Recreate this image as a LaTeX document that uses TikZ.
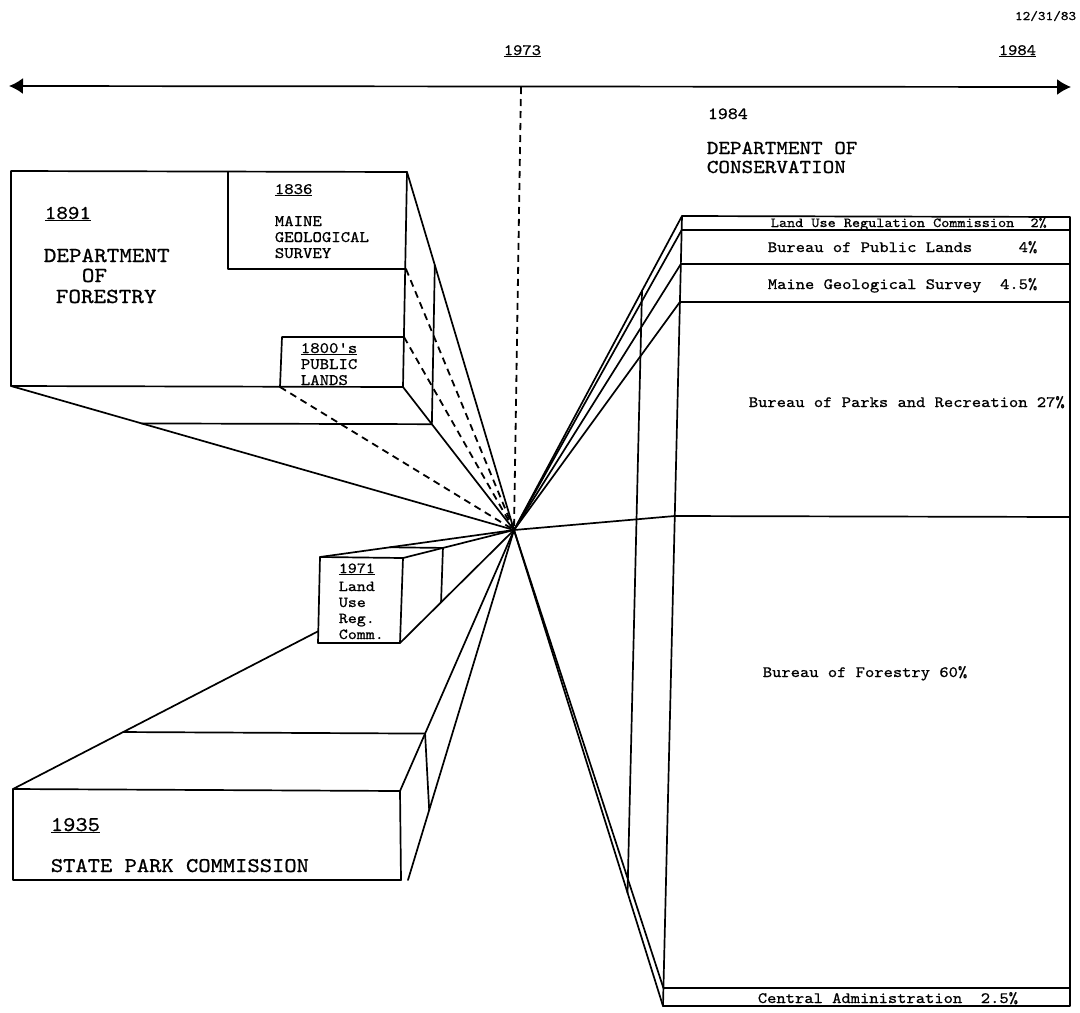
\documentclass[tikz,border=0pt]{standalone}
\usepackage{fontspec}
\newfontfamily\twfont[Extension=.otf,FakeStretch=1.12,FakeBold=0.8]{lmmono10-regular}
\usetikzlibrary{arrows.meta,calc}
\begin{document}
\begin{tikzpicture}[x=1pt,y=-1pt,line width=1.7pt,line join=round,line cap=round,
  dsh/.style={line width=1.8pt,dash pattern=on 7pt off 5pt,line cap=butt},
  tw/.style={font=\twfont\fontsize{#1}{#1}\selectfont,inner sep=0pt,anchor=base west},
  tip/.style={{Latex[length=14pt,width=16pt]}-{Latex[length=14pt,width=16pt]}}]
\useasboundingbox (0,0) rectangle (1080,1013);
\coordinate (V) at (514,530);

% ---------- time line ----------
\coordinate (TL) at (9,86);
\coordinate (TR) at (1071,87);
\draw[tip] (TL) -- (TR);
\coordinate (T73) at (521,87);
\draw[dsh] (T73) -- (V);
\node[tw=13,anchor=base east] (date) at (1077,20) {12/31/83};
\node[tw=15.8] (y73)  at (503,55)  {\underline{1973}};
\node[tw=15.8] (y84a) at (998,55)  {\underline{1984}};

% ---------- Department of Forestry ----------
\coordinate (F1) at (11,171);
\coordinate (F2) at (407,172);
\coordinate (F3) at (403,387);
\coordinate (F4) at (11,386);
\coordinate (M1) at (228,172);
\coordinate (M2) at (228,269);
\coordinate (M3) at (406,269);
\coordinate (P1) at (280,387);
\coordinate (P2) at (282,337);
\coordinate (P3) at (404,337);
\coordinate (FB2) at ($(F2)!0.26!(V)$);
\coordinate (FB3) at ($(F3)!0.26!(V)$);
\coordinate (FB4) at ($(F4)!0.26!(V)$);
\draw (F1)--(F2)--(F3)--(F4)--cycle;
\draw (M1)--(M2)--(M3);
\draw (P1)--(P2)--(P3);
\draw (F2)--(V);
\draw (F3)--(V);
\draw (F4)--(V);
\draw (FB4)--(FB3)--(FB2);
\draw[dsh] (M3)--(V);
\draw[dsh] (P3)--(V);
\draw[dsh] (P1)--(V);

\node[tw=19.6] (y91) at (44,219) {\underline{1891}};
\node[tw=21.4] (df1) at (43,262) {DEPARTMENT};
\node[tw=21.4] (df2) at (81,282) {OF};
\node[tw=21.4] (df3) at (55,303) {FORESTRY};
\node[tw=16] (y36) at (274,194) {\underline{1836}};
\node[tw=16] (mg1) at (274,226) {MAINE};
\node[tw=16] (mg2) at (274,242) {GEOLOGICAL};
\node[tw=16] (mg3) at (274,258) {SURVEY};
\node[tw=16] (pl0) at (300,353) {\underline{1800's}};
\node[tw=16] (pl1) at (300,369) {PUBLIC};
\node[tw=16] (pl2) at (300,385) {LANDS};

% ---------- 1971 Land Use Reg. Comm. ----------
\coordinate (L1) at (320,557);
\coordinate (L2) at (403,558);
\coordinate (L3) at (400,643);
\coordinate (L4) at (318,643);
\coordinate (LB1) at ($(L1)!0.36!(V)$);
\coordinate (LB2) at ($(L2)!0.36!(V)$);
\coordinate (LB3) at ($(L3)!0.36!(V)$);
\draw (L1)--(L2)--(L3)--(L4)--cycle;
\draw (L1)--(V);
\draw (L2)--(V);
\draw (L3)--(V);
\draw (LB1)--(LB2)--(LB3);
\node[tw=15.3] (lu0) at (338,573) {\underline{1971}};
\node[tw=15.3] (lu1) at (338,591) {Land};
\node[tw=15.3] (lu2) at (338,607) {Use};
\node[tw=15.3] (lu3) at (338,623) {Reg.};
\node[tw=15.3] (lu4) at (338,639) {Comm.};

% ---------- 1935 State Park Commission ----------
\coordinate (S1) at (13,789);
\coordinate (S2) at (400,791);
\coordinate (S3) at (401,880);
\coordinate (S4) at (13,880);
\coordinate (S3x) at (408,880);
\coordinate (SB1) at ($(S1)!0.22!(V)$);
\coordinate (SB2) at ($(S2)!0.22!(V)$);
\coordinate (SB3) at ($(S3x)!0.2!(V)$);
\coordinate (SH) at ($(S1)!0.609!(V)$);
\draw (S1)--(S2)--(S3)--(S4)--cycle;
\draw (S1)--(SH);
\draw (SB1)--(SB2)--(SB3);
\draw (S2)--(V);
\draw (S3x)--(V);
\node[tw=20.9] (y35) at (50,831) {\underline{1935}};
\node[tw=20.9] (spc) at (50,872) {STATE PARK COMMISSION};

% ---------- Department of Conservation ----------
\node[tw=17]   (y84b) at (707,119) {1984};
\node[tw=19.7] (dc1)  at (706,154) {DEPARTMENT OF};
\node[tw=19.7] (dc2)  at (706,173) {CONSERVATION};

\coordinate (C0) at (682,216);
\coordinate (C1) at (681.7,230);
\coordinate (C2) at (680.9,264);
\coordinate (C3) at (679.9,302);
\coordinate (C4) at (674.8,516);
\coordinate (C5) at (663.4,988);
\coordinate (C6) at (663,1006);
\coordinate (R0) at (1070,217);
\coordinate (R1) at (1070,230);
\coordinate (R2) at (1070,264);
\coordinate (R3) at (1070,302);
\coordinate (R4) at (1070,517);
\coordinate (R5) at (1070,988);
\coordinate (R6) at (1070,1006);
\draw (C0)--(R0)--(R6)--(C6)--cycle;
\foreach \i in {1,...,5} \draw (C\i)--(R\i);
\foreach \i in {0,...,6} \draw (V)--(C\i);
\coordinate (CB0) at ($(V)!0.762!(C0)$);
\coordinate (CB6) at ($(V)!0.762!(C6)$);
\draw (CB0)--(CB6);

\node[tw=13.8] (r1) at (770,227)  {Land~Use~Regulation~Commission~~2\%};
\node[tw=15.8] (r2) at (767,252)  {Bureau~of~Public~Lands~~~~~4\%};
\node[tw=15.8] (r3) at (767,289)  {Maine~Geological~Survey~~4.5\%};
\node[tw=15.8] (r4) at (748,407)  {Bureau~of~Parks~and~Recreation~27\%};
\node[tw=15.8] (r5) at (762,677)  {Bureau~of~Forestry~60\%};
\node[tw=15.8] (r6) at (757,1003) {Central~Administration~~2.5\%};
\end{tikzpicture}
\end{document}
